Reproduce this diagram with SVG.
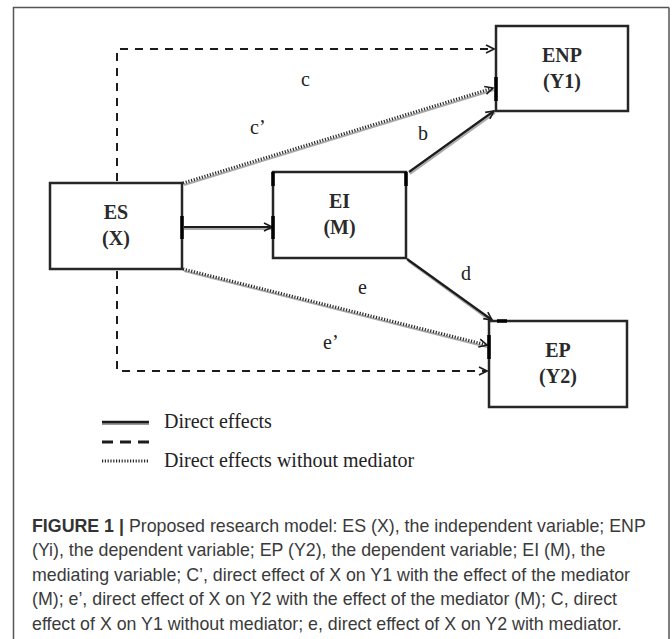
<svg xmlns="http://www.w3.org/2000/svg" width="672" height="639" viewBox="0 0 672 639">
<defs>
<style>
.box{fill:#fff;stroke:#262626;stroke-width:2.5}
.lbl{font-family:"Liberation Serif","Times New Roman",serif;font-weight:bold;font-size:20px;fill:#2a2a2a;text-anchor:middle}
.el{font-family:"Liberation Serif","Times New Roman",serif;font-size:20px;fill:#222}
.solid{fill:none;stroke:#1c1c1c;stroke-width:2.2}
.dash{fill:none;stroke:#1c1c1c;stroke-width:2;stroke-dasharray:8 7}
.dot{fill:none;stroke:#2a2a2a;stroke-width:3;stroke-dasharray:1.2 1.6}
.shadow{fill:none;stroke:#aaa;stroke-width:2}
.tick{stroke:#000;stroke-width:3.5}
.cap{font-family:"Liberation Sans",Arial,sans-serif;font-size:17.8px;fill:#3a3a3a}
</style>
<marker id="ah" viewBox="0 0 10 10" refX="9" refY="5" markerWidth="10" markerHeight="10" markerUnits="userSpaceOnUse" orient="auto">
<path d="M1,1 L9,5 L1,9" fill="none" stroke="#1c1c1c" stroke-width="1.6"/>
</marker>
</defs>
<rect x="0" y="0" width="672" height="639" fill="#fff"/>
<path d="M13.5,645 V7.5 H669" fill="none" stroke="#555" stroke-width="1.5"/>
<path d="M669,7.5 V645" fill="none" stroke="#555" stroke-width="1.5"/>

<g id="connectors">
<path class="dash" d="M117,181 V49 H494" marker-end="url(#ah)"/>
<path class="shadow" d="M184,185 L494,90"/>
<path class="dot" d="M183,183 L493,88" marker-end="url(#ah)"/>
<path class="shadow" d="M410,174 L495,113"/>
<path class="solid" d="M409,172 L494,111" marker-end="url(#ah)"/>
<path class="shadow" d="M184,229 H272"/>
<path class="solid" d="M184,227 H272" marker-end="url(#ah)"/>
<path class="shadow" d="M408,261 L492,322"/>
<path class="solid" d="M407,259 L492,320" marker-end="url(#ah)"/>
<path class="shadow" d="M184,271 L487,347"/>
<path class="dot" d="M183,269 L487,345" marker-end="url(#ah)"/>
<path class="dash" d="M117,271 V371 H487" marker-end="url(#ah)"/>
<text class="el" x="301" y="86">c</text>
<text class="el" x="250" y="134">c’</text>
<text class="el" x="418" y="140">b</text>
<text class="el" x="461" y="280">d</text>
<text class="el" x="358" y="294">e</text>
<text class="el" x="323" y="349">e’</text>
</g>

<g id="ENP">
<rect class="box" x="496" y="26" width="132" height="85"/>
<line class="tick" x1="496" y1="77" x2="496" y2="101"/>
<text class="lbl" x="562" y="62">ENP</text>
<text class="lbl" x="562" y="88">(Y1)</text>
</g>
<g id="ES">
<rect class="box" x="50" y="183" width="132" height="86"/>
<line class="tick" x1="182" y1="216" x2="182" y2="239"/>
<text class="lbl" x="116" y="219">ES</text>
<text class="lbl" x="116" y="245">(X)</text>
</g>
<g id="EI">
<rect class="box" x="273" y="172" width="133" height="86"/>
<line class="tick" x1="273" y1="216" x2="273" y2="239"/>
<line class="tick" x1="273" y1="172" x2="273" y2="186"/>
<line class="tick" x1="406" y1="172" x2="406" y2="186"/>
<text class="lbl" x="339.5" y="208">EI</text>
<text class="lbl" x="339.5" y="234">(M)</text>
</g>
<g id="EP">
<rect class="box" x="489" y="321" width="138" height="86"/>
<line class="tick" x1="489" y1="335" x2="489" y2="359"/>
<line class="tick" x1="497" y1="321" x2="507" y2="321"/>
<text class="lbl" x="558" y="357">EP</text>
<text class="lbl" x="558" y="383">(Y2)</text>
</g>

<g id="legend">
<line x1="102" y1="424" x2="149" y2="424" stroke="#999" stroke-width="2"/>
<line x1="102" y1="422" x2="149" y2="422" stroke="#1c1c1c" stroke-width="2.5"/>
<line x1="102" y1="442" x2="149" y2="442" stroke="#1c1c1c" stroke-width="3" stroke-dasharray="11 7"/>
<line x1="102" y1="461" x2="149" y2="461" stroke="#2a2a2a" stroke-width="3" stroke-dasharray="1.2 1.6"/>
<text class="el" x="164" y="428">Direct effects</text>
<text class="el" x="164" y="467">Direct effects without mediator</text>
</g>

<g id="caption">
<text class="cap" x="32" y="532"><tspan font-weight="bold" fill="#333">FIGURE 1</tspan><tspan fill="#333" font-weight="bold"> | </tspan>Proposed research model: ES (X), the independent variable; ENP</text>
<text class="cap" x="32" y="556">(Yi), the dependent variable; EP (Y2), the dependent variable; EI (M), the</text>
<text class="cap" x="32" y="581">mediating variable; C’, direct effect of X on Y1 with the effect of the mediator</text>
<text class="cap" x="32" y="605">(M); e’, direct effect of X on Y2 with the effect of the mediator (M); C, direct</text>
<text class="cap" x="32" y="630">effect of X on Y1 without mediator; e, direct effect of X on Y2 with mediator.</text>
</g>
</svg>
